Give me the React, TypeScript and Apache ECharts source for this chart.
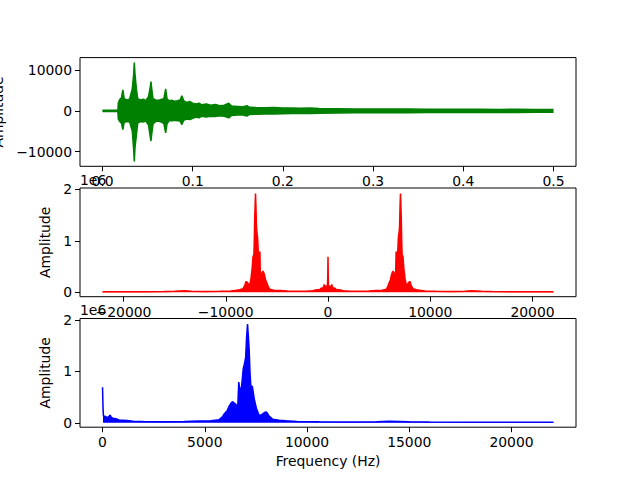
import React, { useEffect, useRef } from "react";
import * as echarts from "echarts";

// Time-domain signal envelope (seconds, upper / lower amplitude)
const SIG_T = [0, 0.017, 0.0175, 0.019, 0.021, 0.0225, 0.024, 0.027, 0.03, 0.033, 0.0345, 0.0352, 0.036, 0.0375, 0.039, 0.042, 0.045, 0.048, 0.051, 0.053, 0.0537, 0.0545, 0.056, 0.059, 0.062, 0.065, 0.068, 0.07, 0.0715, 0.074, 0.077, 0.08, 0.083, 0.086, 0.088, 0.09, 0.093, 0.097, 0.1, 0.104, 0.107, 0.11, 0.115, 0.12, 0.125, 0.13, 0.135, 0.14, 0.143, 0.15, 0.155, 0.16, 0.163, 0.17, 0.18, 0.19, 0.2, 0.21, 0.22, 0.23, 0.24, 0.26, 0.28, 0.3, 0.32, 0.34, 0.36, 0.38, 0.4, 0.42, 0.44, 0.46, 0.48, 0.5];
const SIG_UP = [150, 150, 2000, 2800, 3200, 5200, 3000, 2700, 2900, 5500, 9000, 11900, 9000, 5500, 3000, 2700, 2900, 2600, 3500, 6000, 7200, 5500, 3000, 2700, 2600, 2800, 3000, 5400, 3000, 2500, 2600, 2400, 2500, 2700, 3750, 2500, 2100, 2300, 1900, 1700, 1900, 1500, 1700, 1400, 1600, 1300, 1400, 1900, 1200, 1100, 1000, 1300, 900, 850, 800, 850, 700, 750, 650, 700, 600, 550, 500, 480, 450, 470, 420, 440, 400, 420, 380, 400, 380, 380];
const SIG_LO = [-150, -150, -2000, -2600, -3000, -4600, -2800, -2600, -2700, -5000, -9500, -12400, -9000, -6000, -3000, -2600, -2700, -2500, -3500, -6500, -7400, -5800, -3200, -2600, -2500, -2700, -3100, -5400, -3200, -2400, -2400, -2300, -2400, -2500, -3350, -2300, -2000, -2100, -1800, -1500, -1700, -1300, -1500, -1300, -1400, -1200, -1300, -1700, -1100, -1000, -950, -1250, -850, -800, -750, -750, -700, -650, -600, -650, -550, -500, -450, -430, -420, -430, -400, -400, -380, -380, -360, -370, -350, -350];

// Magnitude spectrum envelope for positive frequencies (Hz, amplitude)
const SPEC_F = [0, 25, 45, 60, 150, 250, 330, 370, 420, 500, 650, 800, 1000, 1200, 1500, 2000, 3000, 4000, 4700, 5300, 5700, 5850, 5950, 6100, 6200, 6300, 6370, 6450, 6520, 6580, 6620, 6660, 6700, 6765, 6830, 6880, 6960, 7000, 7040, 7090, 7130, 7170, 7210, 7250, 7330, 7420, 7530, 7660, 7750, 7820, 7930, 7990, 8060, 8120, 8310, 8640, 8960, 9500, 10600, 12000, 13400, 14000, 15000, 16000, 18000, 20000, 22050];
const SPEC_A = [690000, 280000, 130000, 130000, 120000, 100000, 130000, 150000, 110000, 90000, 80000, 55000, 50000, 45000, 32000, 27000, 22000, 27000, 35000, 40000, 60000, 110000, 170000, 240000, 330000, 390000, 410000, 380000, 360000, 280000, 380000, 790000, 680000, 590000, 830000, 1050000, 1180000, 1280000, 1630000, 1920000, 1680000, 1430000, 980000, 720000, 700000, 460000, 270000, 140000, 150000, 170000, 200000, 210000, 190000, 140000, 70000, 50000, 40000, 27000, 20000, 15000, 18000, 30000, 20000, 14000, 12000, 12000, 12000];
const SPEC_MIN = 10000;

const TIME_TICKS = [0, 0.1, 0.2, 0.3, 0.4, 0.5];
const SIG_TICKS = [-10000, 0, 10000];
const FULL_F_TICKS = [-20000, -10000, 0, 10000, 20000];
const POS_F_TICKS = [0, 5000, 10000, 15000, 20000];
const AMP_TICKS = [0, 1000000, 2000000];

const FONT = "DejaVu Sans";
const FS = 13.9;

function pad(min: number, max: number): [number, number] {
  const s = max - min;
  return [min - 0.05 * s, max + 0.05 * s];
}
const minus = (s: string) => s.replace("-", "\u2212");

export default function App() {
  const ref = useRef<HTMLDivElement>(null);
  useEffect(() => {
    if (!ref.current) return;
    const chart = echarts.init(ref.current, null, { renderer: "svg" });

    const sigUp = SIG_T.map((t, i) => [t, SIG_UP[i]]);
    const sigLo = SIG_T.map((t, i) => [t, SIG_LO[i]]);
    const posSpec = SPEC_F.map((f, i) => [f, SPEC_A[i]]);
    const negSpec = SPEC_F.slice(1).map((f, i) => [-f, SPEC_A[i + 1]]).reverse();
    const fullSpec = negSpec.concat(posSpec);

    const fMax = SPEC_F[SPEC_F.length - 1];
    const tX = pad(SIG_T[0], SIG_T[SIG_T.length - 1]);
    const fullX = pad(-fMax, fMax);
    const posX = pad(SPEC_F[0], fMax);
    const sigY = pad(Math.min(...SIG_LO), Math.max(...SIG_UP));
    const ampY = pad(SPEC_MIN, Math.max(...SPEC_A) + 10000);

    const txt = { fontFamily: FONT, fontSize: FS, color: "#000" };

    const xAxis = (gi: number, r: [number, number], ticks: number[], fmt: (v: number) => string, name?: string) => ({
      type: "value",
      gridIndex: gi,
      min: r[0],
      max: r[1],
      name: name || "",
      nameLocation: "middle",
      nameGap: 27,
      nameTextStyle: txt,
      axisLine: { show: false, onZero: false },
      axisTick: { show: true, length: 5, lineStyle: { color: "#000", width: 1 }, customValues: ticks },
      axisLabel: { ...txt, margin: 8, customValues: ticks, formatter: fmt },
      splitLine: { show: false },
    });
    const yAxis = (gi: number, r: [number, number], ticks: number[], fmt: (v: number) => string, gap: number) => ({
      type: "value",
      gridIndex: gi,
      min: r[0],
      max: r[1],
      name: "Amplitude",
      nameLocation: "middle",
      nameRotate: 90,
      nameGap: gap,
      nameTextStyle: txt,
      axisLine: { show: false, onZero: false },
      axisTick: { show: true, length: 5, lineStyle: { color: "#000", width: 1 }, customValues: ticks },
      axisLabel: { ...txt, margin: 8, customValues: ticks, formatter: fmt },
      splitLine: { show: false },
    });

    const gridBase = {
      left: 80,
      width: 496,
      show: true,
      borderColor: "#000",
      borderWidth: 1,
      backgroundColor: "transparent",
      containLabel: false,
      outerBoundsMode: "none",
    };

    const filled = (xi: number, data: number[][], color: string) => ({
      type: "line",
      xAxisIndex: xi,
      yAxisIndex: xi,
      data,
      showSymbol: false,
      symbol: "none",
      lineStyle: { color, width: 1.5 },
      areaStyle: { color, opacity: 1 },
      silent: true,
    });

    chart.setOption({
      animation: false,
      grid: [
        { ...gridBase, top: 57.6, height: 108.7 },
        { ...gridBase, top: 188, height: 108.7 },
        { ...gridBase, top: 318.5, height: 108.7 },
      ],
      xAxis: [
        xAxis(0, tX, TIME_TICKS, (v) => v.toFixed(1)),
        xAxis(1, fullX, FULL_F_TICKS, (v) => minus(String(v))),
        xAxis(2, posX, POS_F_TICKS, (v) => String(v), "Frequency (Hz)"),
      ],
      yAxis: [
        yAxis(0, sigY, SIG_TICKS, (v) => minus(String(v)), 71),
        yAxis(1, ampY, AMP_TICKS, (v) => String(v / 1e6), 24),
        yAxis(2, ampY, AMP_TICKS, (v) => String(v / 1e6), 24),
      ],
      graphic: [
        { type: "text", left: 80, top: 173, style: { text: "1e6", fontFamily: FONT, fontSize: FS, fill: "#000" } },
        { type: "text", left: 80, top: 303, style: { text: "1e6", fontFamily: FONT, fontSize: FS, fill: "#000" } },
      ],
      series: [
        filled(0, sigUp, "green"),
        filled(0, sigLo, "green"),
        filled(1, fullSpec, "#ff0000"),
        filled(2, posSpec, "#0000ff"),
      ],
    });
    return () => chart.dispose();
  }, []);
  return <div ref={ref} style={{ position: "absolute", left: 0, top: 0, width: 640, height: 480 }} />;
}
